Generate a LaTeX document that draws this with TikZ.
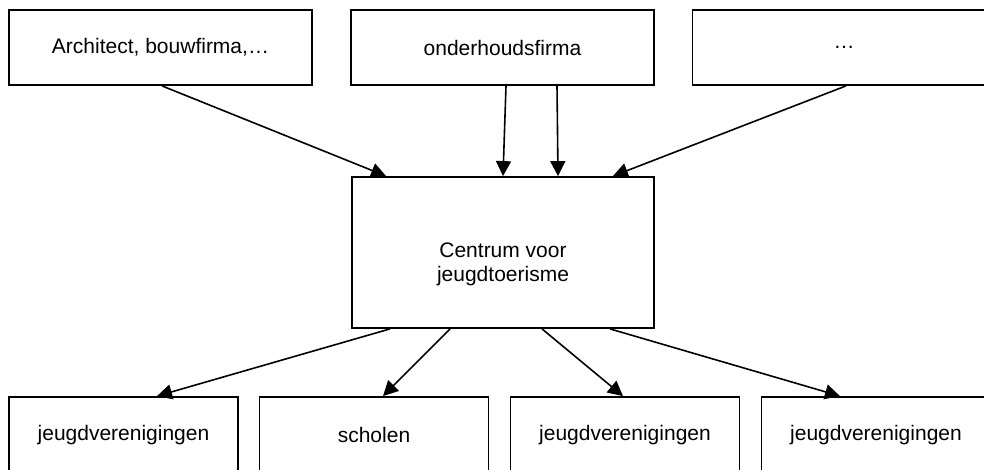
\documentclass[tikz,border=0pt]{standalone}
\usepackage{fontspec}
\setmainfont{Liberation Sans}
\usetikzlibrary{arrows.meta}
\begin{document}
\begin{tikzpicture}[x=1pt, y=-1pt,
	blok/.style={draw, line width=1.8pt, minimum width=303pt, minimum height=75pt,
		inner sep=0pt, font=\fontsize{21}{24}\selectfont, align=center},
	laag/.style={blok, minimum width=229pt, minimum height=76pt},
	pijl/.style={line width=1.6pt, -{Triangle[length=15pt, width=15pt]}}]
	\useasboundingbox (0,0) rectangle (984,470);
	\clip (0,0) rectangle (984,470);
	% leveranciers boven
	\node[blok] (architect) at (160.5,47.5) {Architect, bouwfirma,…};
	\node[blok] (onderhoud) at (502.5,47.5) {onderhoudsfirma};
	\node[blok] (overig) at (844,47.5) {…};
	% centrum
	\node[blok, minimum width=302pt, minimum height=151pt] (centrum) at (503,252.5)
		{\rule{0pt}{39pt}Centrum voor\\jeugdtoerisme};
	% klanten onder
	\node[laag] (jeugd1) at (123.5,435) {jeugdverenigingen};
	\node[laag] (scholen) at (374,435) {scholen};
	\node[laag] (jeugd2) at (625,435) {jeugdverenigingen};
	\node[laag] (jeugd3) at (876,435) {jeugdverenigingen};
	% pijlen naar centrum
	\draw[pijl] ([xshift=1.5pt]architect.south) -- ([xshift=35pt]centrum.north west);
	\draw[pijl] ([xshift=3.5pt]onderhoud.south) -- (centrum.north);
	\draw[pijl] ([xshift=54.5pt]onderhoud.south) -- ([xshift=55pt]centrum.north);
	\draw[pijl] ([xshift=2pt]overig.south) -- ([xshift=-42pt]centrum.north east);
	% pijlen vanuit centrum
	\draw[pijl] ([xshift=-113pt]centrum.south) -- ([xshift=33.5pt]jeugd1.north);
	\draw[pijl] ([xshift=-53pt]centrum.south) -- ([xshift=9pt]scholen.north);
	\draw[pijl] ([xshift=39pt]centrum.south) -- ([xshift=-2pt]jeugd2.north);
	\draw[pijl] ([xshift=107pt]centrum.south) -- ([xshift=-36pt]jeugd3.north);
\end{tikzpicture}
\end{document}
